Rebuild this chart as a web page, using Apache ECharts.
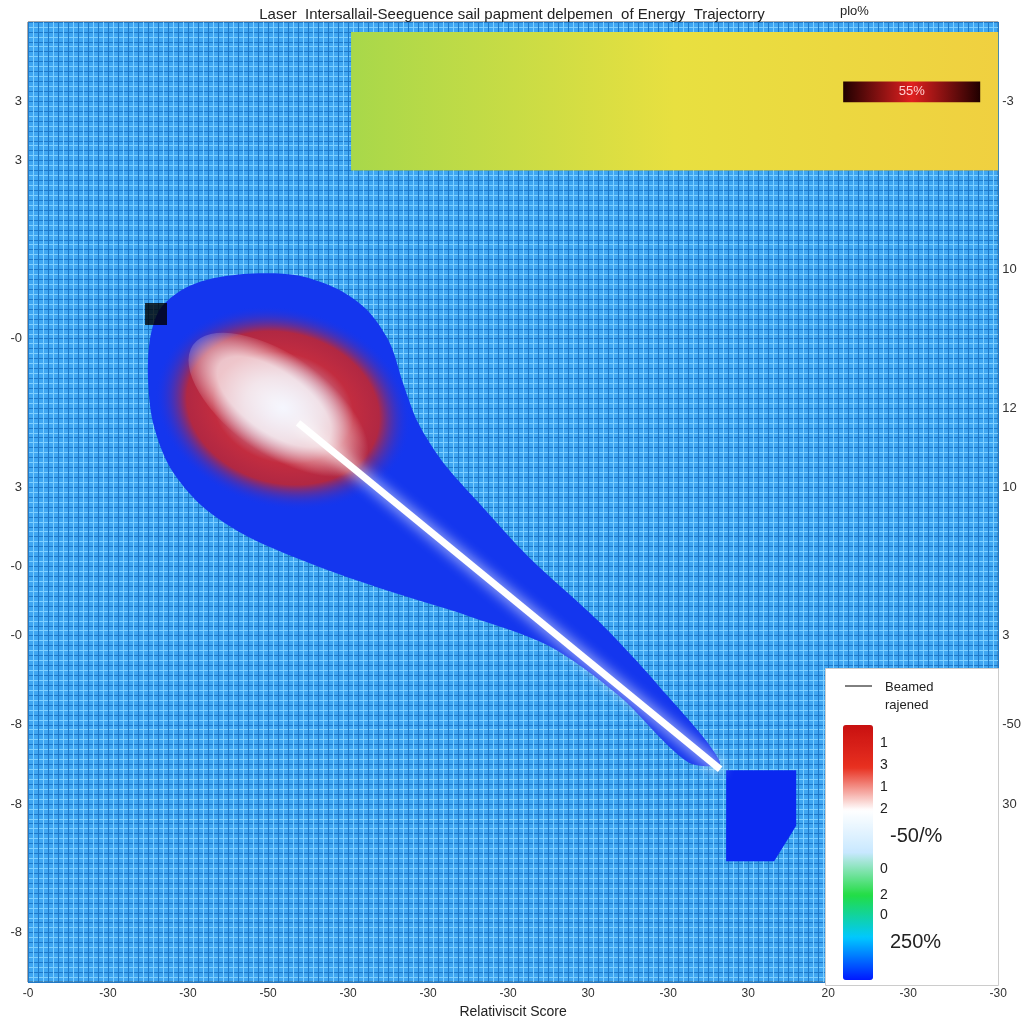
<!DOCTYPE html>
<html><head><meta charset="utf-8">
<script src="https://cdn.jsdelivr.net/npm/echarts@6/dist/echarts.min.js"></script>
<style>html,body{margin:0;background:#fff}#c{width:1024px;height:1024px}</style>
</head><body><div id="c"></div>
<script>
const titleText = 'Laser  Intersallail-Seeguence sail papment delpemen  of Energy  Trajectorry';
const xLabels = {30:'-0',110:'-30',190:'-30',270:'-50',350:'-30',430:'-30',510:'-30',590:'30',670:'-30',750:'30',830:'20',910:'-30',1000:'-30'};
const yLeftLabels = {100:'3',160:'3',340:'-0',490:'3',570:'-0',640:'-0',730:'-8',810:'-8',940:'-8'};
const yRightLabels = {100:'-3',270:'10',410:'12',490:'10',640:'3',730:'-50',810:'30'};
const tearDrop = [[152,340],[162,310],[185,290],[215,279],[255,274],[300,276],[340,290],[370,312],[392,345],[405,385],[420,425],[445,465],[480,505],[530,560],[600,625],[660,690],[722,768],[690,768],[620,700],[550,650],[470,620],[400,598],[320,570],[250,540],[205,510],[172,470],[155,425],[150,380]];
const beamLine = [[300,425],[722,775]];
const blueBlock = [[728,776],[798,776],[798,832],[776,868],[728,868]];
const blackMark = [[158,315]];
const glowCenter = [[285,410]];
const legendLabels = ['1','3','1','2','-50/%','0','2','0','250%'];
const scaleRange = [0,10];

const chart = echarts.init(document.getElementById('c'));
const polySeries = (pts, color, smooth) => ({
  type:'custom', data:[0], z:3,
  renderItem:(p,api)=>({type:'polygon', shape:{points:pts.map(q=>api.coord(q)),smooth:smooth}, style:{fill:color}})
});
const fmt = m => v => m[v] !== undefined ? m[v] : '';
chart.setOption({
  animation:false,
  title:[{text:titleText,left:'center',top:2,textStyle:{fontSize:15,fontWeight:'normal',color:'#222',fontFamily:'Liberation Sans'}},
         {text:'plo%',left:835,top:0,textStyle:{fontSize:13,fontWeight:'normal',color:'#222'}}],
  grid:{left:28,right:24,top:22,bottom:36,show:true,backgroundColor:'#3ea6f2',borderColor:'#555'},
  xAxis:{type:'value',min:30,max:1000,interval:10,name:'Relativiscit Score',nameLocation:'middle',nameGap:22,
    nameTextStyle:{fontSize:14,color:'#222'},
    axisLine:{show:false},axisTick:{show:false},
    axisLabel:{formatter:fmt(xLabels),fontSize:12,color:'#333',margin:6,showMaxLabel:true},
    splitLine:{show:true,lineStyle:{color:'#1f78c8',width:1}},
    minorTick:{show:false,splitNumber:2},minorSplitLine:{show:true,lineStyle:{color:'#7fd0ff',width:1}}},
  yAxis:[{type:'value',min:20,max:990,interval:10,inverse:true,
    axisLine:{show:false},axisTick:{show:false},
    axisLabel:{formatter:fmt(yLeftLabels),fontSize:13,color:'#333',margin:6},
    splitLine:{show:true,lineStyle:{color:'#1f78c8',width:1}},
    minorTick:{show:false,splitNumber:2},minorSplitLine:{show:true,lineStyle:{color:'#7fd0ff',width:1}}},
   {type:'value',min:20,max:990,interval:10,inverse:true,position:'right',
    axisLine:{show:false},axisTick:{show:false},
    axisLabel:{formatter:fmt(yRightLabels),fontSize:13,color:'#333',margin:4},splitLine:{show:false}}],
  visualMap:{type:'continuous',min:scaleRange[0],max:scaleRange[1],calculable:false,text:null,showLabel:false,
    left:828,top:710,itemWidth:30,itemHeight:255,seriesIndex:99,z:20,
    inRange:{color:['#0018ff','#00c8ff','#22dd44','#c8e8ff','#ffffff','#e83020','#c81010']}},
  series:[
    {type:'line',data:[],markArea:{silent:true,data:[
      [{coord:[353,30],itemStyle:{color:new echarts.graphic.LinearGradient(0,0,1,0,[{offset:0,color:'#a8d84a'},{offset:0.5,color:'#e8e040'},{offset:1,color:'#f0d040'}])}},{coord:[1000,170]}],
      [{coord:[845,80],itemStyle:{color:new echarts.graphic.LinearGradient(0,0,1,0,[{offset:0,color:'#200000'},{offset:0.5,color:'#e02020'},{offset:1,color:'#200000'}])},
        label:{show:true,position:'inside',formatter:'55%',color:'#ffd0d0',fontSize:13}},{coord:[982,101]}]
    ]}},
    polySeries(tearDrop,'#1436ee',0.3),
    {type:'scatter',z:4,data:glowCenter,symbol:'circle',symbolSize:[260,200],symbolRotate:-15,
      itemStyle:{color:new echarts.graphic.RadialGradient(0.5,0.5,0.5,[{offset:0,color:'#ffffff'},{offset:0.3,color:'#f8a898'},{offset:0.55,color:'#ee2a14'},{offset:0.75,color:'#d82418'},{offset:1,color:'rgba(20,54,238,0)'}])}},
    {type:'scatter',z:5,data:glowCenter,symbol:'circle',symbolSize:[220,100],symbolRotate:-35,
      itemStyle:{color:new echarts.graphic.RadialGradient(0.45,0.5,0.5,[{offset:0,color:'#ffffff'},{offset:0.6,color:'rgba(255,255,255,0.9)'},{offset:1,color:'rgba(255,255,255,0)'}])}},
    {type:'line',z:5,data:beamLine,symbol:'none',lineStyle:{color:'#ffffff',width:7,shadowColor:'#ffffff',shadowBlur:14}},
    polySeries(blueBlock,'#0a28f0',0),
    {type:'scatter',z:6,data:blackMark,symbol:'rect',symbolSize:22,itemStyle:{color:'#000'}}
  ],
  graphic:[
    {type:'rect',z:10,left:825,top:668,shape:{width:173,height:317},style:{fill:'#fff',stroke:'#ccc'}},
    {type:'line',z:11,shape:{x1:845,y1:686,x2:872,y2:686},style:{stroke:'#000'}},
    {type:'text',z:11,left:885,top:678,style:{text:'Beamed\nrajened',fontSize:13,fill:'#222',lineHeight:18}},
    ...legendLabels.map((t,i)=>({type:'text',z:30,
      left:t.length>2?890:880, top:736+[0,22,44,66,90,126,152,172,196][i],
      style:{text:t,fontSize:t.length>2?20:14,fill:'#222'}}))
  ]
});
</script></body></html>
